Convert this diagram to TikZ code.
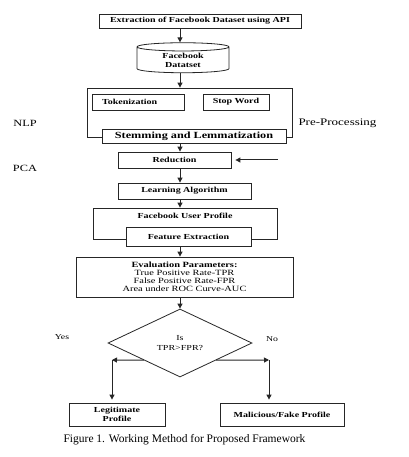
\documentclass[tikz,border=0pt]{standalone}
\usepackage{fontspec}
\setmainfont{Liberation Serif}
\newfontfamily\diafont{Liberation Serif}[FakeStretch=1.3]
\usepackage{tikz}
\usetikzlibrary{positioning,arrows.meta,shapes.geometric}
\definecolor{ink}{HTML}{262626}

\tikzset{
  frame/.style={draw=ink,line width=0.8pt,fill=white,inner sep=0pt,
    font=\diafont\bfseries\fontsize{7.7}{9}\selectfont},
  arr/.style={-{Triangle[length=5pt,width=5pt]},line width=1pt,ink},
  side/.style={font=\diafont\fontsize{9.5}{11}\selectfont},
}

\begin{document}
\begin{tikzpicture}[x=1pt,y=-1pt]
        \useasboundingbox (0,0) rectangle (408,457);
        \coordinate (spine) at (180,0);
        \node[frame,minimum width=202pt,minimum height=14pt] (api) at (200,21){Extraction of Facebook Dataset using API};
        \node[frame,cylinder,shape border rotate=90,aspect=0.2,minimum width=92pt,minimum height=30pt,align=center,font=\diafont\bfseries\fontsize{7.7}{9}\selectfont] (fbdata) at (183,60){Facebook\\Datatset};
        % pre-processing block
        \node[frame,minimum width=205pt,minimum height=49pt] (prep) at (189.5,112.5){};
        \node[frame,minimum width=92pt,minimum height=16pt,text width=72pt,inner xsep=10pt,align=left] (token) at (138,102){Tokenization};
        \node[frame,minimum width=66pt,minimum height=16pt] (stopw) at (236,102){Stop Word};
        \node[frame,minimum width=184pt,minimum height=14pt,font=\diafont\bfseries\fontsize{9.4}{11}\selectfont] (stem) at (194,136){Stemming and Lemmatization};
        \node[side] (nlp) at (25,123){NLP};
        \node[side,font=\diafont\fontsize{10}{12}\selectfont] (preplbl) at (337.5,123){Pre-Processing};
        % reduction and learning
        \node[frame,minimum width=113pt,minimum height=16pt] (reduce) at (174.5,160){Reduction};
        \node[side] (pca) at (25,168){PCA};
        \coordinate (pcain) at (278,160);
        \node[frame,minimum width=133pt,minimum height=16pt] (learn) at (184.5,191){Learning Algorithm};
        \node[frame,minimum width=184pt,minimum height=31pt] (fbuser) at (185,223.5){};
        \node[font=\diafont\bfseries\fontsize{7.7}{9}\selectfont,inner sep=0pt] (fbuserlbl) at (185,216){Facebook User Profile};
        \node[frame,minimum width=125pt,minimum height=19pt] (feat) at (188.5,236.5){Feature Extraction};
        % evaluation and decision
        \node[frame,minimum width=217pt,minimum height=40pt,align=center,font=\diafont\fontsize{8}{8}\selectfont] (evalp) at (184.5,277){\textbf{Evaluation Parameters:}\\True Positive Rate-TPR\\False Positive Rate-FPR\\Area under ROC Curve-AUC};
        \node[frame,diamond,aspect=2.1,minimum width=144pt,minimum height=68pt,align=center,font=\diafont\fontsize{7.7}{10}\selectfont] (decide) at (180,343){Is\\TPR>FPR?};
        \node[side,font=\diafont\fontsize{7.5}{9}\selectfont] (yes) at (62,337){Yes};
        \node[side,font=\diafont\fontsize{7.5}{9}\selectfont] (no) at (272,339){No};
        \coordinate (ycorner) at (112,360);
        \coordinate (ncorner) at (269,360);
        \node[frame,minimum width=96pt,minimum height=23pt,align=center] (legit) at (117,414.5){Legitimate\\Profile};
        \node[frame,minimum width=124pt,minimum height=23pt] (fake) at (282,414.5){Malicious/Fake Profile};
        \node[font=\fontsize{11.5}{13}\selectfont] (caption) at (184.5,440){Figure 1. Working Method for Proposed Framework};
        % connectors
        \draw[arr] (api.south -| spine) -- (fbdata.north -| spine);
        \draw[arr] (fbdata.south -| spine) -- (prep.north -| spine);
        \draw[arr] (stem.south -| spine) -- (reduce.north -| spine);
        \draw[arr,shorten >=4pt] (pcain) -- (reduce.east);
        \draw[arr] (reduce.south -| spine) -- (learn.north -| spine);
        \draw[arr] (learn.south -| spine) -- (fbuser.north -| spine);
        \draw[arr] (feat.south -| spine) -- (evalp.north -| spine);
        \draw[arr] (evalp.south -| spine) -- (decide.north);
        \draw[arr] (decide.south west) -- (ycorner);
        \draw[arr,shorten >=3pt] (ycorner) -- (ycorner |- legit.north);
        \draw[arr] (decide.south east) -- (ncorner);
        \draw[arr,shorten >=3pt] (ncorner) -- (ncorner |- fake.north);
      \end{tikzpicture}
\end{document}
